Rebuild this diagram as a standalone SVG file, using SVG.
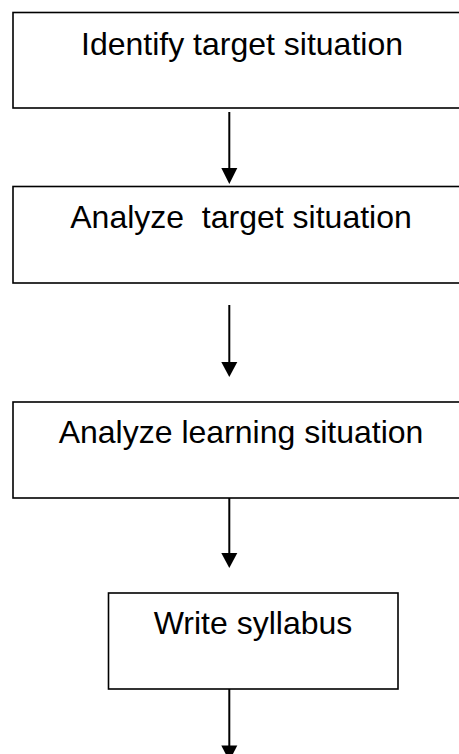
<svg xmlns="http://www.w3.org/2000/svg" width="459" height="754" viewBox="0 0 459 754">
<style>
.box{fill:#fff;stroke:#000;stroke-width:1.6}
.lbl{font-family:"Liberation Sans",Arial,sans-serif;font-size:32px;fill:#000;text-anchor:middle;white-space:pre}
.ln{stroke:#000;stroke-width:2;fill:none}
.hd{fill:#000}
</style>
<rect width="459" height="754" fill="#fff"/>
<g id="n1"><rect class="box" x="13" y="12.5" width="460" height="95.5"/><text class="lbl" x="242" y="55">Identify target situation</text></g>
<g id="n2"><rect class="box" x="13" y="186.5" width="460" height="96.5"/><text class="lbl" x="241" y="228">Analyze  target situation</text></g>
<g id="n3"><rect class="box" x="13" y="402" width="460" height="96"/><text class="lbl" x="241" y="443">Analyze learning situation</text></g>
<g id="n4"><rect class="box" x="108.5" y="593" width="289.5" height="96"/><text class="lbl" x="253" y="634">Write syllabus</text></g>
<g id="connectors">
<line class="ln" x1="229.3" y1="112" x2="229.3" y2="169"/><polygon class="hd" points="221.3,168 237.3,168 229.3,184"/>
<line class="ln" x1="229.3" y1="305" x2="229.3" y2="363"/><polygon class="hd" points="221.3,362 237.3,362 229.3,377"/>
<line class="ln" x1="229.3" y1="498" x2="229.3" y2="554"/><polygon class="hd" points="221.3,553 237.3,553 229.3,568"/>
<line class="ln" x1="229.3" y1="689" x2="229.3" y2="746"/><polygon class="hd" points="221.3,745.5 237.3,745.5 229.3,761"/>
</g>
</svg>
